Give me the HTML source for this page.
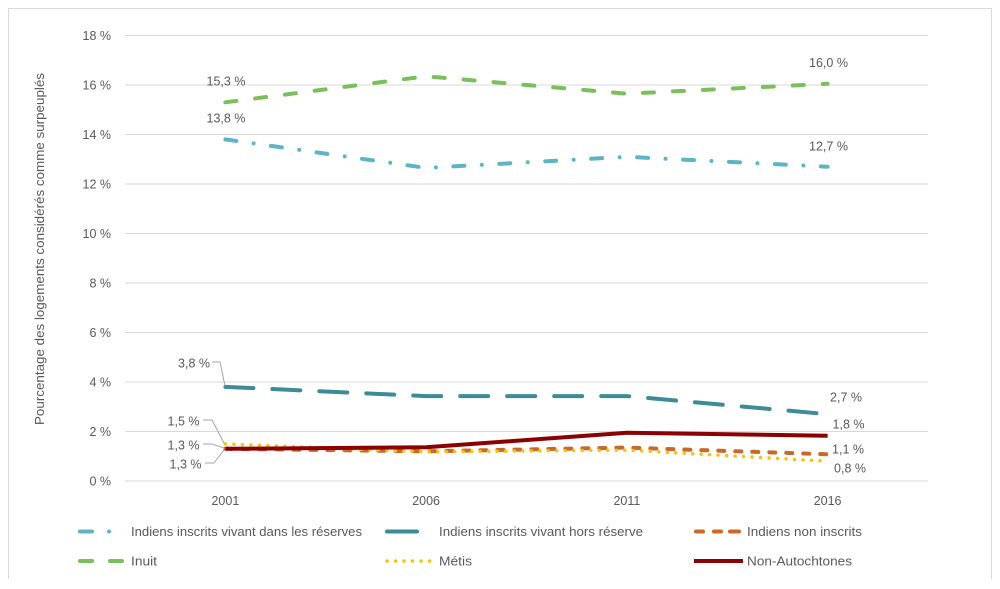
<!DOCTYPE html>
<html><head><meta charset="utf-8"><style>
html,body{margin:0;padding:0;background:#fff;}
svg{display:block;}
text{font-family:"Liberation Sans",sans-serif;fill:#595959;font-size:12.5px;}
</style></head><body>
<svg width="1000" height="589" viewBox="0 0 1000 589" xmlns="http://www.w3.org/2000/svg">
<path d="M8.5,579 L8.5,8.5 L991.5,8.5 L991.5,579" fill="none" stroke="#d9d9d9" stroke-width="1"/>
<g stroke="#d9d9d9" stroke-width="1">
<line x1="125" y1="35.5" x2="928" y2="35.5"/>
<line x1="125" y1="85" x2="928" y2="85"/>
<line x1="125" y1="134.5" x2="928" y2="134.5"/>
<line x1="125" y1="184" x2="928" y2="184"/>
<line x1="125" y1="233.5" x2="928" y2="233.5"/>
<line x1="125" y1="283" x2="928" y2="283"/>
<line x1="125" y1="332.5" x2="928" y2="332.5"/>
<line x1="125" y1="382" x2="928" y2="382"/>
<line x1="125" y1="431.5" x2="928" y2="431.5"/>
<line x1="125" y1="481" x2="928" y2="481"/>
</g>
<g text-anchor="end">
<text x="111" y="40">18 %</text>
<text x="111" y="89.5">16 %</text>
<text x="111" y="139">14 %</text>
<text x="111" y="188.5">12 %</text>
<text x="111" y="238">10 %</text>
<text x="111" y="287.5">8 %</text>
<text x="111" y="337">6 %</text>
<text x="111" y="386.5">4 %</text>
<text x="111" y="436">2 %</text>
<text x="111" y="485.5">0 %</text>
</g>
<g text-anchor="middle">
<text x="225.4" y="505">2001</text>
<text x="426.1" y="505">2006</text>
<text x="626.9" y="505">2011</text>
<text x="827.6" y="505">2016</text>
</g>
<text transform="translate(44,249) rotate(-90)" text-anchor="middle" textLength="352" lengthAdjust="spacingAndGlyphs">Pourcentage des logements considérés comme surpeuplés</text>

<g fill="none" stroke-width="4" stroke-linecap="round" stroke-linejoin="round">
<polyline points="225.4,139.4 426.1,167.9 626.9,156.8 827.6,166.7" stroke="#5bb5c2" stroke-dasharray="11 17.5 0 17.5"/>
<polyline points="225.4,386.9 426.1,396.1 626.9,396.1 827.6,414.2" stroke="#3b8c96" stroke-dasharray="28 19"/>
<polyline points="225.4,448.8 426.1,451.3 626.9,447.6 827.6,454.3" stroke="#c8692a" stroke-dasharray="6 11"/>
<polyline points="225.4,102.3 426.1,76.3 626.9,93.7 827.6,83.8" stroke="#7bbf5a" stroke-dasharray="11 19"/>
<polyline points="225.4,443.9 426.1,451.8 626.9,450.1 827.6,461.2" stroke="#ffc000" stroke-width="3.5" stroke-dasharray="0 8.5"/>
<polyline points="225.4,448.8 426.1,447.3 626.9,432.7 827.6,435.7" stroke="#8b0000" stroke-linecap="butt"/>
</g>

<g stroke="#a6a6a6" stroke-width="1" fill="none">
<polyline points="212,362 220,362 225,386"/>
<polyline points="203,420 212,420 224,443"/>
<polyline points="203,444 212,444 224,448"/>
<polyline points="205,463 214,463 224,450"/>
</g>
<g text-anchor="middle">
<text x="226" y="85.5">15,3 %</text>
<text x="226" y="122.5">13,8 %</text>
<text x="828.5" y="67">16,0 %</text>
<text x="828.5" y="150.5">12,7 %</text>
<text x="194" y="367.5">3,8 %</text>
<text x="183.5" y="425.5">1,5 %</text>
<text x="183.5" y="449.5">1,3 %</text>
<text x="185.5" y="468.5">1,3 %</text>
<text x="846" y="401.5">2,7 %</text>
<text x="848.5" y="428.5">1,8 %</text>
<text x="848" y="453.5">1,1 %</text>
<text x="850" y="472.5">0,8 %</text>
</g>

<g stroke-width="4" stroke-linecap="round" fill="none">
<line x1="80" y1="531.5" x2="92" y2="531.5" stroke="#5bb5c2"/>
<line x1="109" y1="531.5" x2="109" y2="531.5" stroke="#5bb5c2"/>
<line x1="80" y1="561" x2="92" y2="561" stroke="#7bbf5a"/>
<line x1="110" y1="561" x2="122" y2="561" stroke="#7bbf5a"/>
<line x1="387" y1="531.5" x2="417" y2="531.5" stroke="#3b8c96"/>
<line x1="387" y1="561" x2="430" y2="561" stroke="#ffc000" stroke-width="3.5" stroke-dasharray="0 8.5"/>
<line x1="696" y1="531.5" x2="703" y2="531.5" stroke="#c8692a"/>
<line x1="714" y1="531.5" x2="721" y2="531.5" stroke="#c8692a"/>
<line x1="730" y1="531.5" x2="739" y2="531.5" stroke="#c8692a"/>
<line x1="694" y1="561" x2="743" y2="561" stroke="#8b0000" stroke-linecap="butt"/>
</g>
<text x="131" y="536" textLength="231" lengthAdjust="spacingAndGlyphs">Indiens inscrits vivant dans les réserves</text>
<text x="131" y="565.5" textLength="26" lengthAdjust="spacingAndGlyphs">Inuit</text>
<text x="439" y="536" textLength="204" lengthAdjust="spacingAndGlyphs">Indiens inscrits vivant hors réserve</text>
<text x="439" y="565.5" textLength="33" lengthAdjust="spacingAndGlyphs">Métis</text>
<text x="747" y="536" textLength="115" lengthAdjust="spacingAndGlyphs">Indiens non inscrits</text>
<text x="747" y="565.5" textLength="105" lengthAdjust="spacingAndGlyphs">Non-Autochtones</text>
</svg>
</body></html>
